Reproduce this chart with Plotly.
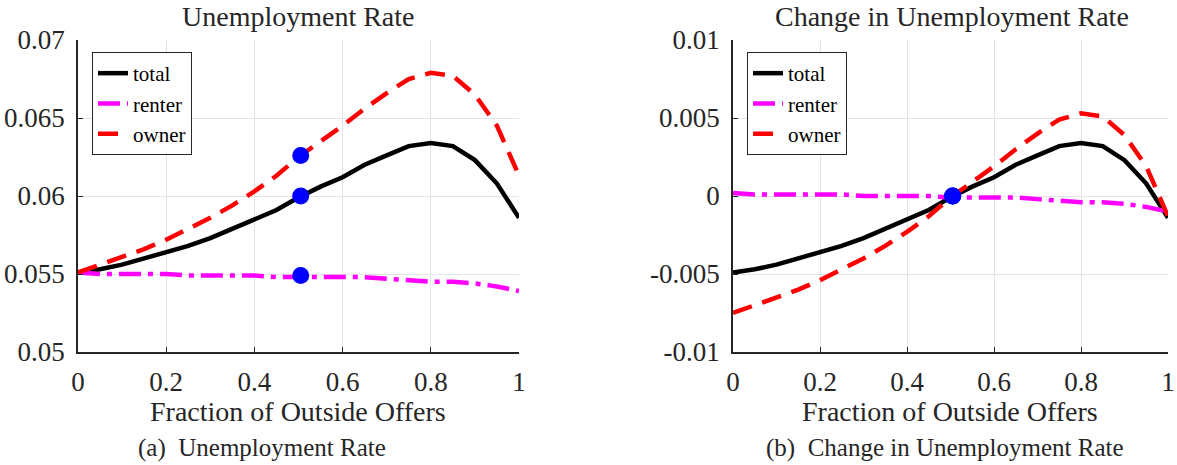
import plotly.graph_objects as go

x = [0, 0.05, 0.1, 0.15, 0.2, 0.25, 0.3, 0.35, 0.4, 0.45, 0.5,
     0.55, 0.6, 0.65, 0.7, 0.75, 0.8, 0.85, 0.9, 0.95, 1.0]

# Panel (a): unemployment rate
total_a = [0.0551, 0.0553, 0.0556, 0.0560, 0.0564, 0.0568, 0.0573, 0.0579, 0.0585, 0.0591, 0.0599,
           0.0606, 0.0612, 0.0620, 0.0626, 0.0632, 0.0634, 0.0632, 0.0623, 0.0608, 0.0586]
renter_a = [0.0551, 0.0550, 0.0550, 0.0550, 0.0550, 0.0549, 0.0549, 0.0549, 0.0549, 0.0548, 0.0548,
            0.0548, 0.0548, 0.0548, 0.0547, 0.0546, 0.0545, 0.0545, 0.0544, 0.0542, 0.0539]
owner_a = [0.0551, 0.0556, 0.0561, 0.0566, 0.0572, 0.0579, 0.0586, 0.0594, 0.0603, 0.0613, 0.0625,
           0.0635, 0.0645, 0.0656, 0.0666, 0.0675, 0.0679, 0.0677, 0.0665, 0.0645, 0.0613]
mark_x = [0.505, 0.505, 0.505]
mark_a = [0.0600, 0.0549, 0.0626]

# Panel (b): change in unemployment rate
total_b = [-0.0049, -0.0047, -0.0044, -0.0040, -0.0036, -0.0032, -0.0027, -0.0021, -0.0015, -0.0009, -0.0001,
           0.0006, 0.0012, 0.0020, 0.0026, 0.0032, 0.0034, 0.0032, 0.0023, 0.0008, -0.0014]
renter_b = [0.0002, 0.0001, 0.0001, 0.0001, 0.0001, 0.0001, 0.0000, 0.0000, 0.0000, 0.0000, -0.0001,
            -0.0001, -0.0001, -0.0001, -0.0002, -0.0003, -0.0004, -0.0004, -0.0005, -0.0007, -0.0010]
owner_b = [-0.0075, -0.0070, -0.0065, -0.0060, -0.0054, -0.0047, -0.0040, -0.0032, -0.0023, -0.0013, -0.0001,
           0.0009, 0.0019, 0.0030, 0.0040, 0.0049, 0.0053, 0.0051, 0.0039, 0.0019, -0.0013]
mark_b = [0.0, 0.0, 0.0]

xticks = [0, 0.2, 0.4, 0.6, 0.8, 1]
xtick_text = ["0", "0.2", "0.4", "0.6", "0.8", "1"]
yticks_a = [0.05, 0.055, 0.06, 0.065, 0.07]
ytick_text_a = ["0.05", "0.055", "0.06", "0.065", "0.07"]
yticks_b = [-0.01, -0.005, 0, 0.005, 0.01]
ytick_text_b = ["-0.01", "-0.005", "0", "0.005", "0.01"]

FONT = "Liberation Serif, Times New Roman, serif"
LW = 4.5
styles = {
    "total": dict(color="black", width=LW, dash="solid"),
    "renter": dict(color="#ff00ff", width=LW, dash="22px,7px,5px,7px"),
    "owner": dict(color="#ff0000", width=LW, dash="20px,11px"),
}

fig = go.Figure()

for (xa, ya, leg, data) in [("x", "y", "legend", (total_a, renter_a, owner_a, mark_a)),
                            ("x2", "y2", "legend2", (total_b, renter_b, owner_b, mark_b))]:
    t, r, o, m = data
    for name, vals in [("total", t), ("renter", r), ("owner", o)]:
        fig.add_trace(go.Scatter(x=x, y=vals, mode="lines", name=name, line=styles[name],
                                 xaxis=xa, yaxis=ya, legend=leg))
    fig.add_trace(go.Scatter(x=mark_x, y=m, mode="markers", showlegend=False,
                             marker=dict(color="#0000ff", size=17), xaxis=xa, yaxis=ya))

axis_common = dict(showgrid=True, gridcolor="#e3e3e3", gridwidth=1, showline=True,
                   linecolor="#262626", linewidth=1.5, ticks="inside", ticklen=5,
                   tickcolor="#262626", zeroline=False, automargin=False, mirror=False,
                   tickfont=dict(family=FONT, size=27, color="#262626"))

legend_common = dict(xanchor="left", yanchor="top", bgcolor="white",
                     bordercolor="#262626", borderwidth=1,
                     font=dict(family=FONT, size=21, color="black"),
                     tracegroupgap=0, itemwidth=30)

fig.update_layout(
    template="none",
    width=1177, height=465,
    margin=dict(l=0, r=0, t=0, b=0, autoexpand=False),
    paper_bgcolor="white", plot_bgcolor="white",
    xaxis=dict(domain=[78/1177, 519/1177], range=[0, 1], tickvals=xticks, ticktext=xtick_text,
               anchor="y", ticklabelstandoff=5, **axis_common),
    yaxis=dict(domain=[1-352/465, 1-40/465], range=[0.05, 0.07], tickvals=yticks_a, ticktext=ytick_text_a,
               anchor="x", ticklabelstandoff=6, **axis_common),
    xaxis2=dict(domain=[733/1177, 1168/1177], range=[0, 1], tickvals=xticks, ticktext=xtick_text,
                anchor="y2", ticklabelstandoff=5, **axis_common),
    yaxis2=dict(domain=[1-352/465, 1-40/465], range=[-0.01, 0.01], tickvals=yticks_b, ticktext=ytick_text_b,
                anchor="x2", ticklabelstandoff=6, **axis_common),
    legend=dict(x=92/1177, y=1-52/465, **legend_common),
    legend2=dict(x=747/1177, y=1-52/465, **legend_common),
    showlegend=True,
)

annotations = [
    dict(text="Unemployment Rate", x=298/1177, y=1-16/465, size=28),
    dict(text="Change in Unemployment Rate", x=952/1177, y=1-16/465, size=28),
    dict(text="Fraction of Outside Offers", x=298/1177, y=1-411/465, size=28),
    dict(text="Fraction of Outside Offers", x=950/1177, y=1-411/465, size=28),
    dict(text="(a)  Unemployment Rate", x=262/1177, y=1-448/465, size=25),
    dict(text="(b)  Change in Unemployment Rate", x=945/1177, y=1-448/465, size=25),
]
for a in annotations:
    fig.add_annotation(text=a["text"], x=a["x"], y=a["y"], xref="paper", yref="paper",
                       xanchor="center", yanchor="middle", showarrow=False,
                       font=dict(family=FONT, size=a["size"], color="#262626"))

fig.write_html("out.html")
